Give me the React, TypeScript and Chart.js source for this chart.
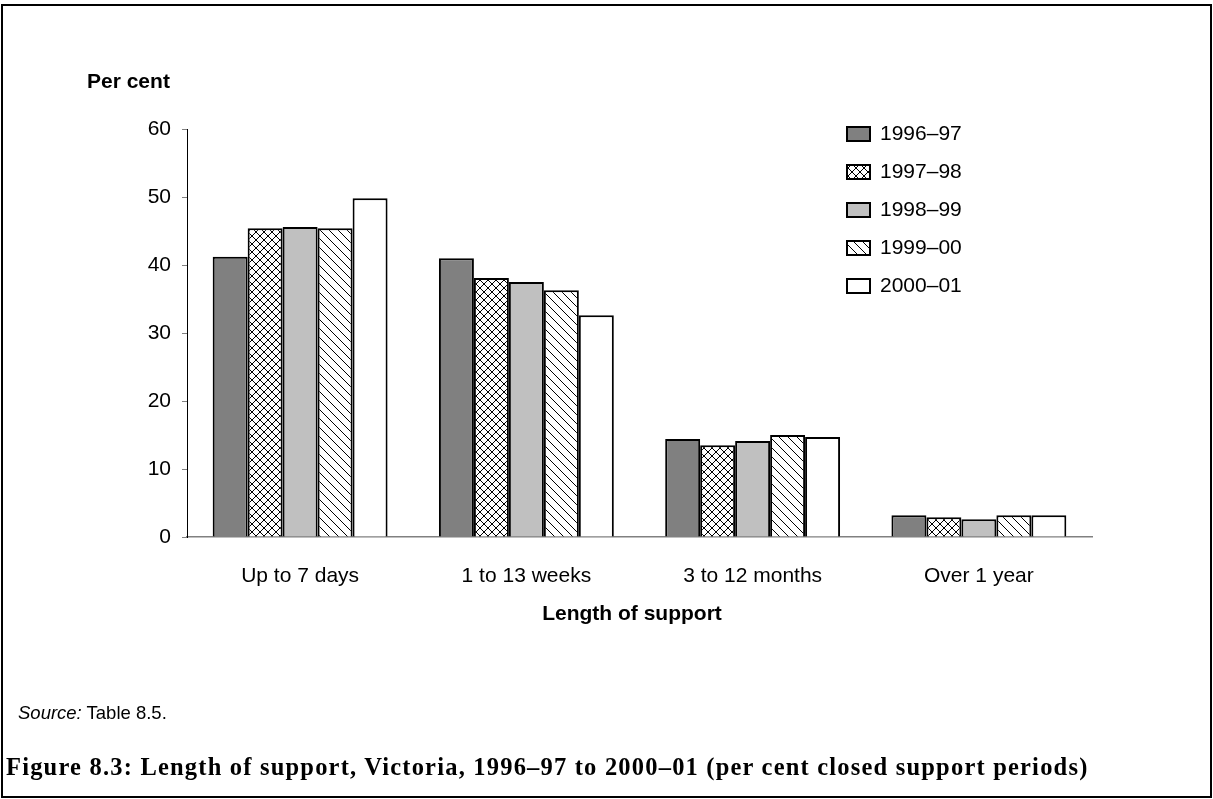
import React, { useEffect, useRef } from "react";
import { Chart, registerables } from "chart.js";

Chart.register(...registerables);

const categories = ["Up to 7 days", "1 to 13 weeks", "3 to 12 months", "Over 1 year"];
const seriesLabels = ["1996–97", "1997–98", "1998–99", "1999–00", "2000–01"];
const values199697 = [41.2, 41.0, 14.4, 3.2];
const values199798 = [45.4, 38.1, 13.5, 2.9];
const values199899 = [45.6, 37.5, 14.1, 2.6];
const values199900 = [45.4, 36.3, 15.0, 3.2];
const values200001 = [49.8, 32.6, 14.7, 3.2];
const yMin = 0;
const yMax = 60;
const yStep = 10;

const SANS = '"Liberation Sans", Arial, sans-serif';

function makeCrossHatch(): CanvasPattern | string {
  const c = document.createElement("canvas");
  c.width = 8;
  c.height = 8;
  const g = c.getContext("2d");
  if (!g) return "#fff";
  g.fillStyle = "#fff";
  g.fillRect(0, 0, 8, 8);
  g.strokeStyle = "#000";
  g.lineWidth = 1;
  g.beginPath();
  g.moveTo(0, 0);
  g.lineTo(8, 8);
  g.moveTo(0, 8);
  g.lineTo(8, 0);
  g.stroke();
  const p = g.createPattern(c, "repeat");
  return p || "#fff";
}

function makeDiagonal(): CanvasPattern | string {
  const s = 9;
  const c = document.createElement("canvas");
  c.width = s;
  c.height = s;
  const g = c.getContext("2d");
  if (!g) return "#fff";
  g.fillStyle = "#fff";
  g.fillRect(0, 0, s, s);
  g.strokeStyle = "#000";
  g.lineWidth = 1;
  g.beginPath();
  g.moveTo(-1, -1);
  g.lineTo(s + 1, s + 1);
  g.moveTo(-1, s - 1);
  g.lineTo(1, s + 1);
  g.moveTo(s - 1, -1);
  g.lineTo(s + 1, 1);
  g.stroke();
  const p = g.createPattern(c, "repeat");
  return p || "#fff";
}

const textPlugin = {
  id: "customTexts",
  afterDraw(chart: any) {
    const ctx = chart.ctx as CanvasRenderingContext2D;
    ctx.save();
    // legend
    chart.data.datasets.forEach((ds: any, i: number) => {
      const y = 127 + i * 38;
      ctx.fillStyle = ds.backgroundColor;
      ctx.fillRect(847, y, 23, 14);
      ctx.strokeStyle = "#000";
      ctx.lineWidth = 2;
      ctx.strokeRect(847, y, 23, 14);
      ctx.fillStyle = "#000";
      ctx.font = `21px ${SANS}`;
      ctx.textAlign = "left";
      ctx.textBaseline = "middle";
      ctx.fillText(ds.label, 880, y + 7);
    });
    // axis titles
    ctx.fillStyle = "#000";
    ctx.font = `bold 21px ${SANS}`;
    ctx.textAlign = "left";
    ctx.textBaseline = "middle";
    ctx.fillText("Per cent", 87, 82);
    ctx.textAlign = "center";
    ctx.fillText("Length of support", 632, 614);
    ctx.restore();
  },
};

export default function App() {
  const canvasRef = useRef<HTMLCanvasElement | null>(null);

  useEffect(() => {
    document.body.style.margin = "0";
    const canvas = canvasRef.current;
    if (!canvas) return;
    const fills = ["#808080", makeCrossHatch(), "#c0c0c0", makeDiagonal(), "#ffffff"];
    const seriesValues = [values199697, values199798, values199899, values199900, values200001];
    const chart = new Chart(canvas, {
      type: "bar",
      data: {
        labels: categories,
        datasets: seriesLabels.map((label, i) => ({
          label,
          data: seriesValues[i],
          backgroundColor: fills[i] as any,
          borderColor: "#000",
          borderWidth: 2,
          categoryPercentage: 0.773,
          barPercentage: 1,
        })),
      },
      options: {
        responsive: false,
        animation: false,
        layout: { padding: { left: 0, right: 121, top: 129, bottom: 0 } },
        plugins: {
          legend: { display: false },
          tooltip: { enabled: false },
        },
        scales: {
          x: {
            grid: { display: false, drawTicks: false },
            border: { display: true, color: "#808080", width: 1.5 },
            ticks: { color: "#000", font: { family: SANS, size: 21 }, padding: 27 },
            afterFit: (s: any) => {
              s.height = 262;
            },
          },
          y: {
            min: yMin,
            max: yMax,
            ticks: { stepSize: yStep, color: "#000", font: { family: SANS, size: 21 }, padding: 11 },
            grid: { drawOnChartArea: false, tickLength: 5, color: "#808080" },
            border: { color: "#000", width: 1 },
            afterFit: (s: any) => {
              s.width = 187;
            },
          },
        },
      },
      plugins: [textPlugin],
    });
    return () => chart.destroy();
  }, []);

  return (
    <div style={{ position: "relative", width: 1213, height: 799, background: "#fff", overflow: "hidden" }}>
      <canvas ref={canvasRef} width={1213} height={799} style={{ position: "absolute", left: 0, top: 0 }} />
      <div
        style={{
          position: "absolute",
          left: 18,
          top: 703,
          fontFamily: SANS,
          fontSize: 18.5,
          lineHeight: "20px",
          color: "#000",
          whiteSpace: "nowrap",
        }}
      >
        <i>Source:</i> Table 8.5.
      </div>
      <div
        style={{
          position: "absolute",
          left: 6,
          top: 753,
          fontFamily: '"Liberation Serif", "DejaVu Serif", serif',
          fontWeight: "bold",
          fontSize: 24.5,
          letterSpacing: "1.2px",
          lineHeight: "28px",
          color: "#000",
          whiteSpace: "nowrap",
        }}
      >
        Figure 8.3: Length of support, Victoria, 1996–97 to 2000–01 (per cent closed support periods)
      </div>
      <div
        style={{
          position: "absolute",
          left: 1,
          top: 4,
          width: 1211,
          height: 794,
          boxSizing: "border-box",
          border: "2px solid #000",
          pointerEvents: "none",
        }}
      />
    </div>
  );
}
